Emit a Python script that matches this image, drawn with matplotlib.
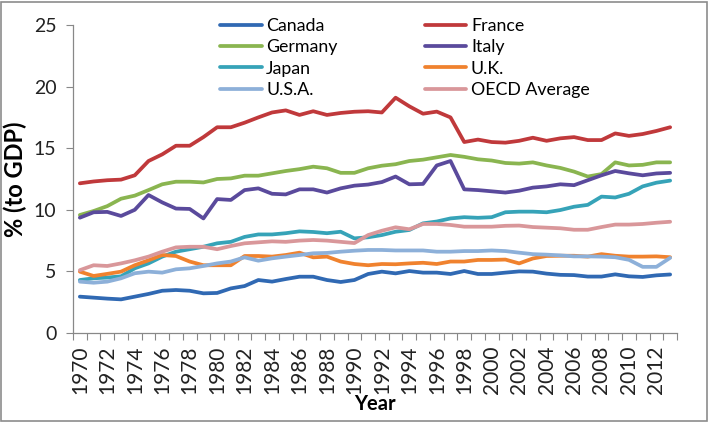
import numpy as np
import matplotlib
matplotlib.use('Agg')
import matplotlib.pyplot as plt
from matplotlib.patches import Rectangle

plt.rcParams['font.family'] = ['Lato', 'DejaVu Sans']

years = list(range(1970, 2014))

canada = [2.95, 2.87, 2.79, 2.73, 2.95, 3.17, 3.43, 3.49, 3.43, 3.22, 3.25,
          3.62, 3.81, 4.30, 4.17, 4.38, 4.57, 4.57, 4.30, 4.14, 4.30,
          4.79, 4.98, 4.84, 5.03, 4.90, 4.90, 4.79, 5.03, 4.79, 4.79,
          4.90, 5.00, 4.98, 4.82, 4.72, 4.70, 4.58, 4.58, 4.76, 4.60,
          4.55, 4.68, 4.75]
france = [12.15, 12.3, 12.4, 12.45, 12.8, 13.96, 14.5, 15.2, 15.2, 15.9, 16.7,
          16.7, 17.07, 17.5, 17.9, 18.07, 17.7, 18.0, 17.7, 17.86, 17.96,
          18.0, 17.9, 19.1, 18.4, 17.8, 17.97, 17.5, 15.5, 15.7, 15.5,
          15.45, 15.6, 15.85, 15.6, 15.8, 15.9, 15.66, 15.66, 16.2, 16.0,
          16.15, 16.4, 16.7]
germany = [9.58, 9.9, 10.3, 10.9, 11.15, 11.6, 12.07, 12.28, 12.28, 12.22, 12.5,
           12.55, 12.77, 12.77, 12.96, 13.15, 13.3, 13.5, 13.37, 13.0, 13.0,
           13.37, 13.58, 13.7, 13.96, 14.07, 14.26, 14.45, 14.3, 14.1, 14.0,
           13.8, 13.75, 13.85, 13.6, 13.4, 13.1, 12.7, 12.9, 13.85, 13.6,
           13.65, 13.85, 13.85]
italy = [9.36, 9.8, 9.83, 9.5, 10.0, 11.2, 10.6, 10.1, 10.07, 9.3, 10.87,
         10.8, 11.6, 11.74, 11.3, 11.25, 11.66, 11.66, 11.4, 11.74, 11.96,
         12.05, 12.25, 12.7, 12.07, 12.1, 13.6, 13.96, 11.66, 11.6, 11.5,
         11.4, 11.55, 11.8, 11.9, 12.07, 12.0, 12.4, 12.8, 13.15, 12.96,
         12.8, 12.95, 13.0]
japan = [4.3, 4.44, 4.5, 4.6, 5.25, 5.65, 6.2, 6.6, 6.8, 7.0, 7.28,
         7.4, 7.8, 8.0, 8.0, 8.1, 8.25, 8.2, 8.1, 8.22, 7.68,
         7.77, 7.95, 8.22, 8.36, 8.9, 9.05, 9.3, 9.4, 9.35, 9.4,
         9.8, 9.85, 9.85, 9.8, 9.98, 10.25, 10.4, 11.07, 11.0, 11.3,
         11.9, 12.2, 12.37]
uk = [4.98, 4.63, 4.8, 4.98, 5.5, 5.9, 6.33, 6.25, 5.8, 5.5, 5.5,
      5.5, 6.25, 6.25, 6.2, 6.33, 6.52, 6.14, 6.2, 5.8, 5.6,
      5.5, 5.6, 5.58, 5.65, 5.7, 5.6, 5.8, 5.8, 5.93, 5.93,
      5.96, 5.65, 6.05, 6.25, 6.27, 6.27, 6.2, 6.4, 6.27, 6.2,
      6.2, 6.22, 6.15]
usa = [4.17, 4.08, 4.17, 4.44, 4.85, 4.98, 4.9, 5.17, 5.25, 5.44, 5.65,
       5.8, 6.14, 5.87, 6.06, 6.2, 6.33, 6.47, 6.5, 6.6, 6.68,
       6.74, 6.74, 6.7, 6.7, 6.7, 6.6, 6.6, 6.65, 6.65, 6.7,
       6.65, 6.52, 6.4, 6.36, 6.3, 6.22, 6.22, 6.2, 6.15, 5.94,
       5.37, 5.37, 6.1]
oecd = [5.1, 5.5, 5.44, 5.65, 5.9, 6.2, 6.6, 6.95, 7.0, 7.0, 6.8,
        7.06, 7.28, 7.36, 7.44, 7.4, 7.5, 7.55, 7.5, 7.4, 7.3,
        7.95, 8.3, 8.58, 8.42, 8.85, 8.85, 8.77, 8.63, 8.63, 8.63,
        8.7, 8.72, 8.6, 8.55, 8.5, 8.38, 8.38, 8.6, 8.8, 8.8,
        8.85, 8.95, 9.03]

series = [('Canada', canada, '#3069B3'),
          ('France', france, '#C0393B'),
          ('Germany', germany, '#8AB550'),
          ('Italy', italy, '#5A4A9C'),
          ('Japan', japan, '#36A3B8'),
          ('U.K.', uk, '#F0822E'),
          ('U.S.A.', usa, '#8DB0D9'),
          ('OECD Average', oecd, '#D9979A')]

fig = plt.figure(figsize=(7.1, 4.22), dpi=100)
ax = fig.add_axes([73/710, 1-333/422, 604/710, 308/422])

x = np.arange(len(years))
lines = {}
for name, vals, col in series:
    ln, = ax.plot(x, vals, color=col, lw=2.7, solid_capstyle='round',
                  solid_joinstyle='round', label=name)
    lines[name] = ln

ax.set_xlim(-0.5, len(years) - 0.5)
ax.set_ylim(0, 25)
ax.set_yticks([0, 5, 10, 15, 20, 25])
ax.set_xticks(x[::2])
ax.set_xticklabels([str(y) for y in years[::2]], rotation=90, fontsize=15)
ax.set_xticks(np.arange(-0.5, len(years), 1.0), minor=True)
ax.tick_params(axis='x', which='major', length=0, pad=9, colors='#222222')
ax.tick_params(axis='x', which='minor', length=5, width=0.8, color='#888888')
ax.tick_params(axis='y', length=5, width=0.8, color='#888888', labelsize=14,
               labelcolor='#222222', pad=7)

for s in ['top', 'right']:
    ax.spines[s].set_visible(False)
for s in ['left', 'bottom']:
    ax.spines[s].set_color('#888888')
    ax.spines[s].set_linewidth(0.9)

ax.set_ylabel('% (to GDP)', fontsize=17, fontweight='bold', labelpad=5)
ax.set_xlabel('Year', fontsize=14.5, fontweight='bold', labelpad=0)

order = ['Canada', 'France', 'Germany', 'Italy', 'Japan', 'U.K.',
         'U.S.A.', 'OECD Average']
# column-major order for legend so rows are Canada/France etc.
col_order = order[0::2] + order[1::2]
leg = fig.legend([lines[n] for n in col_order], col_order, ncol=2,
                 loc='upper left', bbox_to_anchor=(220/710, 1-18/422),
                 frameon=False, fontsize=12.8, handlelength=2.35,
                 handletextpad=0.25, columnspacing=4.9, labelspacing=0.3,
                 borderpad=0, borderaxespad=0)

fig.add_artist(Rectangle((0.002, 0.003), 0.994, 0.993, transform=fig.transFigure,
                         fill=False, edgecolor='#8c8c8c', lw=1.2))

fig.savefig('out.png', dpi=100)
